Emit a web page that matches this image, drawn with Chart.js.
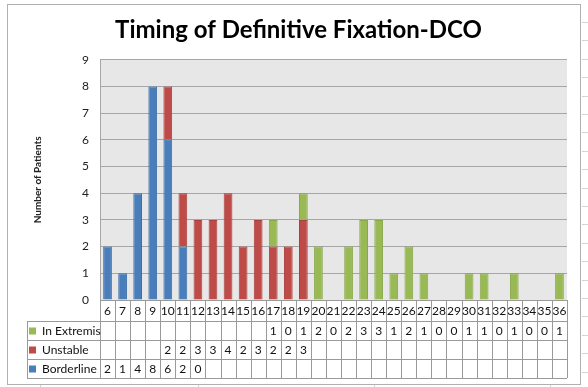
<!DOCTYPE html>
<html lang="en">
<head>
    <meta charset="UTF-8">
    <title>Timing of Definitive Fixation-DCO</title>
    <script src="https://cdn.jsdelivr.net/npm/chart.js"></script>
    <style>
        html, body { margin: 0; padding: 0; background: #fff; }
        #wrap { width: 588px; height: 387px; }
    </style>
</head>
<body>
    <div id="wrap"><canvas id="fixChart" width="588" height="387"></canvas></div>
    <script>
        // Data
        const categories = ['6','7','8','9','10','11','12','13','14','15','16','17','18','19','20','21',
                            '22','23','24','25','26','27','28','29','30','31','32','33','34','35','36'];
        const borderline = [2,1,4,8,6,2,0,null,null,null,null,null,null,null,null,null,
                            null,null,null,null,null,null,null,null,null,null,null,null,null,null,null];
        const unstable   = [null,null,null,null,2,2,3,3,4,2,3,2,2,3,null,null,
                            null,null,null,null,null,null,null,null,null,null,null,null,null,null,null];
        const inExtremis = [null,null,null,null,null,null,null,null,null,null,null,1,0,1,2,0,
                            2,3,3,1,2,1,0,0,1,1,0,1,0,0,1];
        const yTicks = [0,1,2,3,4,5,6,7,8,9];

        const FONT = 'Lato, "Open Sans", sans-serif';
        const gridGrey = '#a6a6a6';
        const lineGrey = '#9a9a9a';

        // background: frame, spreadsheet lines, plot fill
        const backgroundPlugin = {
            id: 'background',
            beforeDraw(chart) {
                const ctx = chart.ctx;
                const a = chart.chartArea;
                ctx.save();
                ctx.fillStyle = '#fff';
                ctx.fillRect(0, 0, chart.width, chart.height);
                // spreadsheet cell lines outside the chart frame
                ctx.strokeStyle = '#d4d4d4';
                ctx.lineWidth = 1;
                for (let y = 22; y < chart.height; y += 18.4) {
                    ctx.beginPath();
                    ctx.moveTo(582, Math.round(y) + 0.5);
                    ctx.lineTo(588, Math.round(y) + 0.5);
                    ctx.stroke();
                }
                [40, 198, 374, 550].forEach(x => {
                    ctx.beginPath();
                    ctx.moveTo(x + 0.5, 385);
                    ctx.lineTo(x + 0.5, 387);
                    ctx.stroke();
                });
                // chart frame
                ctx.strokeStyle = '#b0b0b0';
                ctx.strokeRect(7.5, 4.5, 573, 380);
                // plot fill
                ctx.fillStyle = '#e7e7e7';
                ctx.fillRect(a.left, a.top, a.right - a.left, a.bottom - a.top);
                ctx.restore();
            }
        };

        // data table under the plot, with legend keys in its first column
        const tablePlugin = {
            id: 'dataTable',
            afterDraw(chart) {
                const ctx = chart.ctx;
                const a = chart.chartArea;
                const xs = chart.scales.x;
                const colW = xs.width / categories.length;
                const rows = [a.bottom, a.bottom + 21, a.bottom + 40, a.bottom + 59, a.bottom + 78];
                const legLeft = 27;
                const tableRows = [
                    { label: 'In Extremis', values: inExtremis, ds: 2 },
                    { label: 'Unstable', values: unstable, ds: 1 },
                    { label: 'Borderline', values: borderline, ds: 0 }
                ];

                ctx.save();
                ctx.strokeStyle = lineGrey;
                ctx.lineWidth = 1;

                // horizontal lines
                ctx.beginPath();
                ctx.moveTo(a.left, rows[0] + 0.5);
                ctx.lineTo(a.right, rows[0] + 0.5);
                for (let r = 1; r < rows.length; r++) {
                    ctx.moveTo(legLeft, Math.round(rows[r]) + 0.5);
                    ctx.lineTo(a.right, Math.round(rows[r]) + 0.5);
                }
                // vertical lines
                ctx.moveTo(legLeft + 0.5, rows[1]);
                ctx.lineTo(legLeft + 0.5, rows[4]);
                for (let i = 0; i <= categories.length; i++) {
                    const x = Math.round(a.left + i * colW) + 0.5;
                    ctx.moveTo(x, rows[0]);
                    ctx.lineTo(x, rows[4]);
                }
                ctx.stroke();

                ctx.fillStyle = '#111';
                ctx.font = '12px ' + FONT;
                ctx.textAlign = 'center';
                ctx.textBaseline = 'middle';
                categories.forEach((c, i) => {
                    ctx.fillText(c, xs.getPixelForValue(i), (rows[0] + rows[1]) / 2 + 1);
                });

                tableRows.forEach((row, r) => {
                    const cy = (rows[r + 1] + rows[r + 2]) / 2 + 1;
                    // legend key
                    ctx.fillStyle = chart.data.datasets[row.ds].backgroundColor;
                    ctx.fillRect(legLeft + 2, cy - 4, 7, 7);
                    ctx.fillStyle = '#111';
                    ctx.textAlign = 'left';
                    ctx.fillText(row.label, legLeft + 15, cy);
                    ctx.textAlign = 'center';
                    row.values.forEach((v, i) => {
                        if (v !== null) ctx.fillText(String(v), xs.getPixelForValue(i), cy);
                    });
                });
                ctx.restore();
            }
        };

        const ctx = document.getElementById('fixChart').getContext('2d');
        const chart = new Chart(ctx, {
            type: 'bar',
            data: {
                labels: categories,
                datasets: [
                    { label: 'Borderline', data: borderline, backgroundColor: '#4a7ebb', borderColor: '#3f70ab', borderWidth: 1 },
                    { label: 'Unstable', data: unstable, backgroundColor: '#be4b48', borderColor: '#a9403d', borderWidth: 1 },
                    { label: 'In Extremis', data: inExtremis, backgroundColor: '#98b954', borderColor: '#88a84a', borderWidth: 1 }
                ]
            },
            options: {
                responsive: false,
                animation: false,
                layout: { padding: { top: 12, left: 30, right: 21, bottom: 87 } },
                datasets: { bar: { categoryPercentage: 1, barPercentage: 0.58 } },
                plugins: {
                    legend: { display: false },
                    tooltip: { enabled: false },
                    title: {
                        display: true,
                        text: 'Timing of Definitive Fixation-DCO',
                        color: '#000',
                        font: { family: FONT, size: 24, weight: 'bold' },
                        padding: { top: 4, bottom: 15 }
                    }
                },
                scales: {
                    x: {
                        stacked: true,
                        display: false
                    },
                    y: {
                        stacked: true,
                        min: 0,
                        max: 9,
                        afterFit(scale) { scale.width = 70; },
                        afterBuildTicks(scale) { scale.ticks = yTicks.map(v => ({ value: v })); },
                        ticks: { color: '#222', font: { family: FONT, size: 12 }, padding: 11 },
                        grid: { color: gridGrey, drawTicks: false },
                        border: { color: gridGrey },
                        title: {
                            display: true,
                            text: 'Number of Patients',
                            color: '#222',
                            font: { family: FONT, size: 10, weight: 'bold' },
                            padding: { top: 2, bottom: 0 }
                        }
                    }
                }
            },
            plugins: [backgroundPlugin, tablePlugin]
        });
    </script>
</body>
</html>
